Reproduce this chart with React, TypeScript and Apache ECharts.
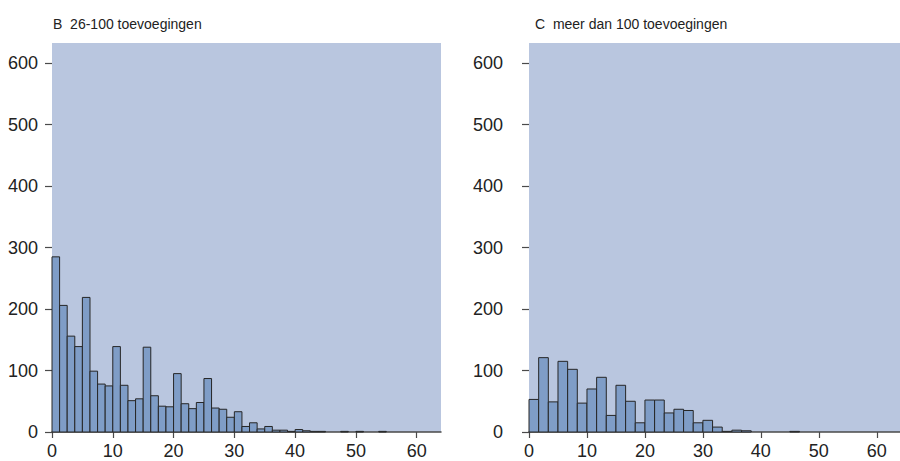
import React, { useEffect, useRef } from "react";
import * as echarts from "echarts";

const leftTitle = "B  26-100 toevoegingen";
const rightTitle = "C  meer dan 100 toevoegingen";

const leftBinWidth = 1.25;
const leftCounts = [
  285, 206, 156, 139, 219, 99, 78, 75, 139, 76, 51, 54, 138, 59, 42, 41, 95, 46, 38, 48,
  87, 39, 37, 24, 33, 9, 15, 5, 9, 3, 3, 1, 4, 2, 1, 1, 0, 0, 1, 0, 1, 0, 0, 1,
];

const rightBinWidth = 5 / 3;
const rightCounts = [
  53, 121, 49, 115, 102, 47, 70, 89, 27, 76, 50, 15, 52, 52, 31, 37, 35, 15, 19, 8,
  1, 3, 2, 0, 0, 0, 0, 1,
];

const yTicks = [0, 100, 200, 300, 400, 500, 600];
const xTicks = [0, 10, 20, 30, 40, 50, 60];

const FONT = '"Liberation Sans Narrow", "Arial Narrow", "Liberation Sans", sans-serif';
const BG = "#b9c6df";
const BAR = "#7f9dc7";
const EDGE = "#262626";
const TEXT = "#222222";

function toBins(counts: number[], bw: number) {
  const out: number[][] = [];
  counts.forEach((c, i) => {
    if (c > 0) out.push([i * bw, (i + 1) * bw, c]);
  });
  return out;
}

const renderBar = (params: any, api: any) => {
  const x0 = api.value(0);
  const x1 = api.value(1);
  const y = api.value(2);
  const p0 = api.coord([x0, y]);
  const p1 = api.coord([x1, 0]);
  return {
    type: "rect",
    shape: { x: p0[0], y: p0[1], width: p1[0] - p0[0], height: p1[1] - p0[1] },
    style: { fill: BAR, stroke: EDGE, lineWidth: 1 },
  };
};

export default function App() {
  const ref = useRef<HTMLDivElement>(null);
  useEffect(() => {
    if (!ref.current) return;
    const chart = echarts.init(ref.current, null, { renderer: "svg" });
    const xAxisBase = (gridIndex: number) => ({
      type: "value",
      gridIndex,
      min: xTicks[0],
      max: 64,
      interval: 10,
      splitLine: { show: false },
      axisLine: { show: true, lineStyle: { color: "#4a4a4a", width: 1.5 } },
      axisTick: { show: true, length: 6, lineStyle: { color: "#4a4a4a", width: 1.2 } },
      axisLabel: {
        margin: 10,
        color: TEXT,
        fontFamily: FONT,
        fontSize: 18,
        showMaxLabel: false,
        formatter: (v: number) => (xTicks.includes(v) ? String(v) : ""),
      },
    });
    const yAxisBase = (gridIndex: number, margin: number) => ({
      type: "value",
      gridIndex,
      min: yTicks[0],
      max: 633,
      interval: 100,
      splitLine: { show: false },
      axisLine: { show: false },
      axisTick: { show: true, length: 7, lineStyle: { color: "#4a4a4a", width: 1.2 } },
      axisLabel: {
        margin,
        color: TEXT,
        fontFamily: FONT,
        fontSize: 18,
        showMaxLabel: false,
        formatter: (v: number) => (yTicks.includes(v) ? String(v) : ""),
      },
    });
    chart.setOption({
      animation: false,
      backgroundColor: "#ffffff",
      title: [
        {
          text: leftTitle,
          left: 48,
          top: 12,
          textStyle: { fontFamily: FONT, fontSize: 14, fontWeight: "normal", color: TEXT },
        },
        {
          text: rightTitle,
          left: 530,
          top: 12,
          textStyle: { fontFamily: FONT, fontSize: 14, fontWeight: "normal", color: TEXT },
        },
      ],
      grid: [
        { left: 52, top: 43, width: 389, height: 389, show: true, backgroundColor: BG, borderWidth: 0 },
        { left: 529, top: 43, width: 384, height: 389, show: true, backgroundColor: BG, borderWidth: 0 },
      ],
      xAxis: [xAxisBase(0), xAxisBase(1)],
      yAxis: [yAxisBase(0, 14), yAxisBase(1, 26)],
      series: [
        {
          type: "custom",
          xAxisIndex: 0,
          yAxisIndex: 0,
          renderItem: renderBar,
          encode: { x: [0, 1], y: 2 },
          data: toBins(leftCounts, leftBinWidth),
        },
        {
          type: "custom",
          xAxisIndex: 1,
          yAxisIndex: 1,
          renderItem: renderBar,
          encode: { x: [0, 1], y: 2 },
          data: toBins(rightCounts, rightBinWidth),
        },
      ],
    });
    return () => chart.dispose();
  }, []);
  return (
    <div
      ref={ref}
      style={{ position: "fixed", left: 0, top: 0, width: 900, height: 461 }}
    />
  );
}
